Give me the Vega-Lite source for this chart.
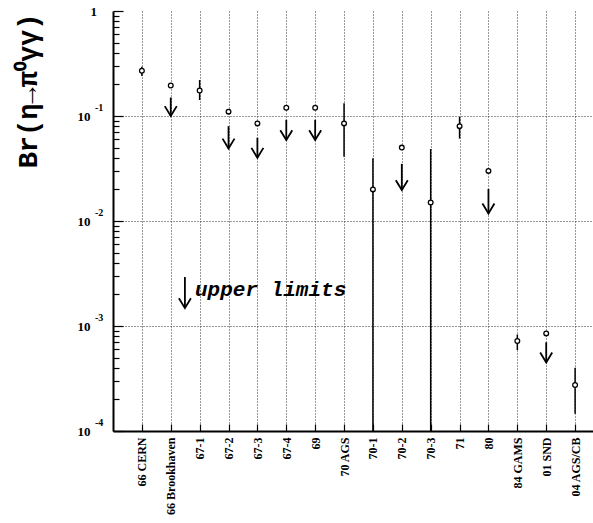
{
  "$schema": "https://vega.github.io/schema/vega-lite/v6.json",
  "width": 480,
  "height": 420,
  "autosize": {"type": "none"},
  "padding": {"left": 113, "top": 11, "right": 0, "bottom": 92},
  "background": "white",
  "config": {"view": {"stroke": null}},
  "datasets": {
    "pts": [
      {"i": 1, "name": "66 CERN", "v": 0.27, "lo": 0.24, "hi": 0.295, "atop": null, "abot": null},
      {"i": 2, "name": "66 Brookhaven", "v": 0.195, "lo": null, "hi": null, "atop": 0.15, "abot": 0.1},
      {"i": 3, "name": "67-1", "v": 0.175, "lo": 0.142, "hi": 0.22, "atop": null, "abot": null},
      {"i": 4, "name": "67-2", "v": 0.11, "lo": null, "hi": null, "atop": 0.08, "abot": 0.049},
      {"i": 5, "name": "67-3", "v": 0.085, "lo": null, "hi": null, "atop": 0.062, "abot": 0.04},
      {"i": 6, "name": "67-4", "v": 0.12, "lo": null, "hi": null, "atop": 0.092, "abot": 0.059},
      {"i": 7, "name": "69", "v": 0.12, "lo": null, "hi": null, "atop": 0.092, "abot": 0.059},
      {"i": 8, "name": "70 AGS", "v": 0.085, "lo": 0.041, "hi": 0.132, "atop": null, "abot": null},
      {"i": 9, "name": "70-1", "v": 0.02, "lo": 0.0001, "hi": 0.0395, "atop": null, "abot": null},
      {"i": 10, "name": "70-2", "v": 0.05, "lo": null, "hi": null, "atop": 0.035, "abot": 0.0197},
      {"i": 11, "name": "70-3", "v": 0.015, "lo": 0.0001, "hi": 0.0485, "atop": null, "abot": null},
      {"i": 12, "name": "71", "v": 0.08, "lo": 0.061, "hi": 0.098, "atop": null, "abot": null},
      {"i": 13, "name": "80", "v": 0.03, "lo": null, "hi": null, "atop": 0.0202, "abot": 0.0118},
      {"i": 14, "name": "84 GAMS", "v": 0.00072, "lo": 0.00059, "hi": 0.00083, "atop": null, "abot": null},
      {"i": 15, "name": "01 SND", "v": 0.00085, "lo": null, "hi": null, "atop": 0.0007, "abot": 0.00045},
      {"i": 16, "name": "04 AGS/CB", "v": 0.000274, "lo": 0.000146, "hi": 0.0004, "atop": null, "abot": null}
    ],
    "legend": [
      {"i": 2.49, "atop": 0.00293, "abot": 0.00148, "ti": 2.84, "ty": 0.0022, "label": "upper limits"}
    ],
    "exponents": [
      {"x": 0, "d": 0.1, "e": "-1"},
      {"x": 0, "d": 0.01, "e": "-2"},
      {"x": 0, "d": 0.001, "e": "-3"},
      {"x": 0, "d": 0.0001, "e": "-4"}
    ]
  },
  "layer": [
    {
      "data": {"name": "pts"},
      "transform": [{"filter": "datum.lo != null"}],
      "mark": {"type": "rule", "color": "black", "strokeWidth": 1.5},
      "encoding": {
        "x": {
          "field": "i", "type": "quantitative",
          "scale": {"domain": [0, 16.62], "nice": false, "zero": false},
          "axis": {
            "title": null,
            "values": [1,2,3,4,5,6,7,8,9,10,11,12,13,14,15,16],
            "tickCount": 40,
            "labelExpr": "['66 CERN','66 Brookhaven','67-1','67-2','67-3','67-4','69','70 AGS','70-1','70-2','70-3','71','80','84 GAMS','01 SND','04 AGS/CB'][datum.value-1]",
            "labelAngle": -90, "labelAlign": "right", "labelBaseline": "middle",
            "labelFont": "Liberation Serif", "labelFontWeight": "bold", "labelFontSize": 12, "labelColor": "black",
            "labelPadding": 13, "labelOverlap": false, "labelBound": false, "labelFlush": false,
            "tickSize": -7, "tickColor": "black", "tickWidth": 1.2,
            "domainColor": "black", "domainWidth": 2,
            "grid": true, "gridColor": "#333", "gridDash": [1, 2], "gridWidth": 1
          }
        },
        "y": {
          "field": "lo", "type": "quantitative",
          "scale": {"type": "log", "domain": [0.0001, 1], "nice": false},
          "axis": {
            "title": "Br(η→π⁰γγ)",
            "titleFont": "Liberation Mono", "titleFontWeight": "bold", "titleFontSize": 27, "titleColor": "black",
            "titleAngle": -90, "titleAlign": "right", "titleBaseline": "middle", "titleX": -85, "titleY": 2,
            "values": [0.0001,0.0002,0.0003,0.0004,0.0005,0.0006,0.0007,0.0008,0.0009,0.001,0.002,0.003,0.004,0.005,0.006,0.007,0.008,0.009,0.01,0.02,0.03,0.04,0.05,0.06,0.07,0.08,0.09,0.1,0.2,0.3,0.4,0.5,0.6,0.7,0.8,0.9,1],
            "tickCount": 100,
            "labelExpr": "datum.value >= 0.999 ? '1' : (abs(log(datum.value)/LN10 - round(log(datum.value)/LN10)) < 0.001 ? '10' : '')",
            "labelAlign": {"condition": {"test": "datum.value >= 0.999", "value": "left"}, "value": "right"},
            "labelFont": "Liberation Serif", "labelFontWeight": "bold", "labelFontSize": 13, "labelColor": "black",
            "labelPadding": 33, "labelOverlap": false, "labelBound": false, "labelFlush": false,
            "tickSize": {"condition": {"test": "abs(log(datum.value)/LN10 - round(log(datum.value)/LN10)) < 0.001", "value": -10}, "value": -6},
            "tickColor": "black", "tickWidth": 1.2,
            "domainColor": "black", "domainWidth": 2,
            "grid": true, "gridColor": "#333", "gridDash": [1, 2], "gridWidth": 1,
            "gridOpacity": {"condition": {"test": "abs(log(datum.value)/LN10 - round(log(datum.value)/LN10)) < 0.001 && datum.value < 0.999 && datum.value > 0.00011", "value": 1}, "value": 0}
          }
        },
        "y2": {"field": "hi"}
      }
    },
    {
      "data": {"name": "pts"},
      "transform": [{"filter": "datum.atop != null"}],
      "mark": {"type": "rule", "color": "black", "strokeWidth": 1.8},
      "encoding": {
        "x": {"field": "i", "type": "quantitative"},
        "y": {"field": "atop", "type": "quantitative"},
        "y2": {"field": "abot"}
      }
    },
    {
      "data": {"name": "pts"},
      "transform": [{"filter": "datum.atop != null"}],
      "mark": {"type": "point", "shape": "M-1,-1.65L0,0L1,-1.65", "size": 144, "filled": false, "stroke": "black", "strokeWidth": 1.8, "opacity": 1},
      "encoding": {
        "x": {"field": "i", "type": "quantitative"},
        "y": {"field": "abot", "type": "quantitative"}
      }
    },
    {
      "data": {"name": "pts"},
      "mark": {"type": "point", "shape": "circle", "size": 22, "filled": true, "fill": "white", "stroke": "black", "strokeWidth": 1.3, "opacity": 1},
      "encoding": {
        "x": {"field": "i", "type": "quantitative"},
        "y": {"field": "v", "type": "quantitative"}
      }
    },
    {
      "mark": {"type": "rule", "color": "black", "strokeWidth": 2},
      "encoding": {"y": {"datum": 1}}
    },
    {
      "data": {"name": "legend"},
      "mark": {"type": "rule", "color": "black", "strokeWidth": 1.8},
      "encoding": {
        "x": {"field": "i", "type": "quantitative"},
        "y": {"field": "atop", "type": "quantitative"},
        "y2": {"field": "abot"}
      }
    },
    {
      "data": {"name": "legend"},
      "mark": {"type": "point", "shape": "M-1,-1.65L0,0L1,-1.65", "size": 144, "filled": false, "stroke": "black", "strokeWidth": 1.8, "opacity": 1},
      "encoding": {
        "x": {"field": "i", "type": "quantitative"},
        "y": {"field": "abot", "type": "quantitative"}
      }
    },
    {
      "data": {"name": "legend"},
      "mark": {"type": "text", "font": "Liberation Mono", "fontWeight": "bold", "fontStyle": "italic", "fontSize": 21, "align": "left", "baseline": "middle", "color": "black"},
      "encoding": {
        "x": {"field": "ti", "type": "quantitative"},
        "y": {"field": "ty", "type": "quantitative"},
        "text": {"field": "label"}
      }
    },
    {
      "data": {"name": "exponents"},
      "mark": {"type": "text", "font": "Liberation Serif", "fontWeight": "bold", "fontSize": 10, "align": "left", "baseline": "middle", "dx": -18, "dy": -8, "clip": false, "color": "black"},
      "encoding": {
        "x": {"field": "x", "type": "quantitative"},
        "y": {"field": "d", "type": "quantitative"},
        "text": {"field": "e"}
      }
    }
  ]
}
